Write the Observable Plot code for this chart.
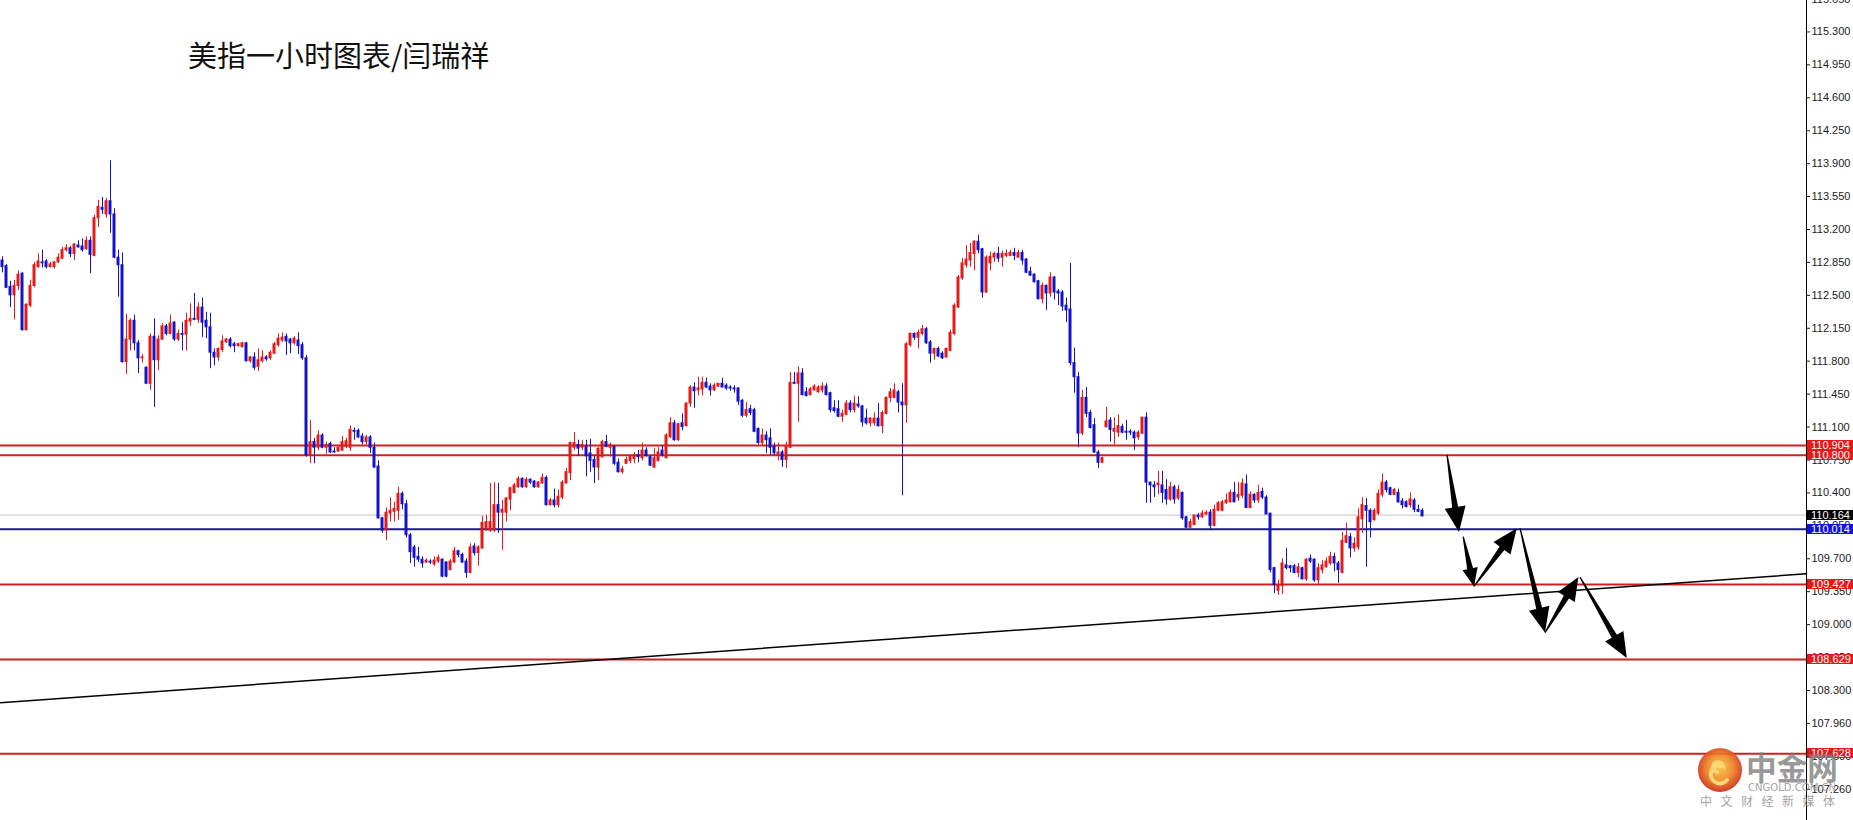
<!DOCTYPE html>
<html><head><meta charset="utf-8">
<script src="https://cdn.jsdelivr.net/npm/d3@7"></script>
<script src="https://cdn.jsdelivr.net/npm/@observablehq/plot@0.6"></script>
<style>
html,body{margin:0;padding:0;background:#fff;overflow:hidden;}
#wrap{position:relative;width:1853px;height:820px;}
#chart{position:absolute;left:0;top:0;}
#title{position:absolute;left:188px;top:37px;font-size:29px;line-height:34px;font-family:"Noto Sans CJK SC","Noto Sans",sans-serif;color:#111;white-space:nowrap;}
</style></head>
<body><div id="wrap"><div id="chart"></div>
<div id="title">美指一小时图表/闫瑞祥</div>
</div>
<script>
// ---- candle data (1-hour bars, oldest first) ----
const opens=[112.87,112.81,112.59,112.50,112.60,112.73,112.13,112.39,112.60,112.80,
112.85,112.86,112.80,112.80,112.85,112.89,112.98,113.00,112.94,113.03,
113.02,112.99,113.08,112.92,113.32,113.43,113.36,113.50,113.36,112.90,
112.82,111.79,112.03,112.23,111.99,111.83,111.73,111.56,112.06,111.81,
112.03,112.17,112.09,112.21,112.03,112.09,112.08,112.22,112.25,112.24,
112.37,112.23,112.16,111.89,111.84,111.92,112.00,112.03,111.98,111.96,
111.95,111.99,111.80,111.84,111.74,111.80,111.84,111.83,111.88,111.97,
112.02,112.06,112.03,111.99,112.02,111.97,111.83,110.80,110.94,110.88,
111.01,110.88,110.92,110.84,110.84,110.85,110.89,110.88,111.06,111.06,
111.00,110.94,110.99,110.88,110.68,110.13,110.00,110.18,110.20,110.21,
110.39,110.28,109.95,109.82,109.72,109.69,109.66,109.67,109.64,109.67,
109.69,109.66,109.58,109.66,109.78,109.74,109.67,109.55,109.83,109.76,
109.81,110.01,110.00,110.00,110.27,110.19,110.19,110.33,110.40,110.46,
110.55,110.46,110.54,110.52,110.46,110.50,110.56,110.27,110.32,110.27,
110.35,110.50,110.61,110.88,110.91,110.88,110.89,110.82,110.75,110.67,
110.78,110.94,110.88,110.89,110.72,110.62,110.71,110.74,110.76,110.80,
110.77,110.85,110.78,110.67,110.74,110.85,110.77,110.99,111.14,110.96,
111.14,111.11,111.35,111.52,111.49,111.50,111.57,111.53,111.49,111.53,
111.56,111.54,111.52,111.51,111.51,111.38,111.22,111.29,111.28,111.08,
110.93,111.01,110.98,110.89,110.80,110.83,110.75,110.88,111.57,111.56,
111.67,111.47,111.44,111.49,111.47,111.49,111.53,111.46,111.30,111.29,
111.21,111.23,111.35,111.28,111.34,111.32,111.19,111.14,111.14,111.19,
111.11,111.24,111.41,111.41,111.47,111.36,111.33,111.97,112.09,112.05,
112.09,112.14,112.00,111.88,111.93,111.88,111.84,111.91,112.09,112.37,
112.68,112.82,112.87,112.94,113.07,112.99,112.53,112.84,112.90,112.94,
112.90,112.92,112.92,112.95,112.90,112.95,112.88,112.75,112.72,112.65,
112.46,112.60,112.52,112.69,112.54,112.53,112.39,112.35,111.78,111.63,
111.03,111.41,111.25,111.12,110.83,110.72,111.10,111.17,111.05,111.04,
111.10,111.05,111.05,111.04,110.99,111.03,111.20,110.51,110.48,110.48,
110.48,110.43,110.33,110.46,110.34,110.40,110.14,110.03,110.06,110.16,
110.14,110.17,110.19,110.05,110.21,110.21,110.29,110.30,110.40,110.35,
110.37,110.49,110.24,110.38,110.32,110.41,110.35,110.18,109.60,109.36,
109.41,109.63,109.62,109.62,109.55,109.60,109.48,109.70,109.69,109.47,
109.58,109.61,109.65,109.72,109.65,109.55,109.87,109.93,109.81,109.82,
110.12,110.26,110.21,110.11,110.18,110.38,110.51,110.45,110.38,110.40,
110.31,110.30,110.27,110.32,110.22,110.21];
const highs=[112.91,112.83,112.65,112.66,112.76,112.74,112.41,112.66,112.85,112.94,
112.98,112.88,112.85,112.86,112.94,113.01,113.04,113.02,113.05,113.08,
113.10,113.12,113.12,113.35,113.51,113.54,113.53,113.93,113.42,112.98,
112.95,112.30,112.25,112.29,112.02,111.87,111.74,112.09,112.25,112.07,
112.20,112.19,112.29,112.22,112.13,112.21,112.31,112.41,112.52,112.42,
112.47,112.32,112.31,111.93,111.94,112.07,112.04,112.05,112.00,111.99,
112.00,112.00,111.85,111.89,111.93,111.91,111.86,111.91,112.00,112.09,
112.10,112.09,112.04,112.06,112.10,112.00,111.86,111.17,110.98,111.06,
111.03,110.94,110.94,110.88,110.89,111.00,110.98,111.11,111.09,111.08,
111.03,111.01,111.01,110.93,110.74,110.14,110.24,110.35,110.30,110.46,
110.41,110.32,109.97,109.84,109.82,109.72,109.70,109.69,109.72,109.74,
109.70,109.67,109.69,109.82,109.79,109.76,109.70,109.86,109.86,109.84,
110.15,110.16,110.50,110.51,110.50,110.32,110.35,110.46,110.50,110.57,
110.56,110.56,110.55,110.53,110.52,110.60,110.58,110.34,110.44,110.43,
110.53,110.66,110.94,111.04,110.96,110.96,110.96,110.97,110.79,110.88,
110.96,111.01,110.93,110.90,110.76,110.68,110.78,110.80,110.83,110.85,
110.93,110.88,110.80,110.87,110.88,110.90,111.03,111.20,111.17,111.14,
111.24,111.36,111.54,111.57,111.63,111.63,111.62,111.56,111.56,111.56,
111.62,111.56,111.54,111.54,111.52,111.39,111.36,111.33,111.30,111.09,
111.08,111.05,111.08,110.93,110.93,110.85,110.94,111.68,111.68,111.74,
111.72,111.52,111.52,111.55,111.54,111.57,111.56,111.47,111.38,111.38,
111.28,111.38,111.38,111.43,111.42,111.33,111.29,111.20,111.25,111.35,
111.27,111.42,111.51,111.56,111.49,111.56,112.00,112.10,112.10,112.13,
112.18,112.16,112.02,111.94,111.95,111.90,111.94,112.13,112.41,112.71,
112.89,113.03,113.05,113.08,113.14,113.00,112.92,112.96,112.96,113.01,
112.97,112.98,112.98,113.00,112.98,112.98,112.89,112.80,112.73,112.66,
112.63,112.61,112.74,112.70,112.56,112.55,112.47,112.84,111.94,111.68,
111.49,111.52,111.28,111.19,110.85,110.78,111.31,111.20,111.20,111.23,
111.13,111.17,111.07,111.06,111.06,111.20,111.25,110.51,110.52,110.63,
110.63,110.54,110.51,110.48,110.48,110.41,110.15,110.12,110.16,110.18,
110.21,110.21,110.22,110.27,110.31,110.32,110.39,110.43,110.51,110.51,
110.55,110.59,110.41,110.39,110.48,110.45,110.37,110.18,109.61,109.47,
109.70,109.81,109.63,109.64,109.65,109.61,109.70,109.74,109.70,109.65,
109.68,109.71,109.77,109.76,109.67,109.98,110.08,109.97,109.92,110.23,
110.35,110.34,110.23,110.23,110.43,110.60,110.53,110.46,110.45,110.44,
110.34,110.32,110.40,110.34,110.27,110.23];
const lows=[112.74,112.57,112.37,112.24,112.55,112.12,112.12,112.37,112.58,112.79,
112.79,112.78,112.79,112.78,112.84,112.88,112.96,112.90,112.87,113.00,
112.96,112.98,112.73,112.91,113.22,113.36,113.32,113.16,112.89,112.48,
111.78,111.66,111.91,111.91,111.67,111.78,111.56,111.49,111.31,111.70,
112.02,112.07,112.08,112.01,112.01,111.91,111.91,112.17,112.23,112.20,
112.05,112.04,111.72,111.75,111.80,111.89,111.99,111.94,111.89,111.95,
111.94,111.79,111.78,111.70,111.69,111.78,111.80,111.81,111.87,111.95,
112.00,111.86,111.88,111.97,111.87,111.81,110.78,110.71,110.71,110.85,
110.87,110.81,110.82,110.82,110.83,110.84,110.87,110.84,110.96,110.98,
110.91,110.91,110.82,110.66,110.12,109.97,109.89,110.09,110.09,110.11,
110.22,109.92,109.65,109.61,109.66,109.60,109.65,109.64,109.62,109.65,
109.50,109.50,109.57,109.65,109.71,109.65,109.49,109.54,109.73,109.62,
109.80,109.99,109.98,109.98,109.97,109.79,110.09,110.21,110.39,110.45,
110.45,110.45,110.49,110.45,110.45,110.49,110.26,110.26,110.24,110.24,
110.33,110.50,110.53,110.85,110.79,110.85,110.57,110.62,110.50,110.53,
110.77,110.88,110.78,110.69,110.61,110.60,110.70,110.71,110.71,110.72,
110.74,110.78,110.68,110.66,110.73,110.78,110.76,110.98,110.95,110.95,
111.06,111.10,111.31,111.30,111.43,111.43,111.51,111.43,111.48,111.52,
111.52,111.49,111.48,111.46,111.33,111.20,111.20,111.22,111.04,110.91,
110.90,110.82,110.80,110.80,110.74,110.67,110.66,110.87,111.55,111.15,
111.43,111.42,111.43,111.48,111.46,111.46,111.43,111.25,111.25,111.20,
111.15,111.22,111.25,111.25,111.30,111.10,111.12,111.10,111.11,111.10,
111.03,111.23,111.36,111.40,111.25,110.37,111.14,111.95,112.02,111.93,
112.07,111.98,111.78,111.81,111.84,111.82,111.83,111.90,112.07,112.36,
112.66,112.79,112.80,112.76,112.94,112.47,112.52,112.76,112.85,112.85,
112.80,112.90,112.91,112.87,112.90,112.82,112.73,112.70,112.63,112.45,
112.41,112.34,112.48,112.45,112.39,112.33,112.21,111.75,111.46,110.88,
111.01,111.20,111.08,110.82,110.66,110.71,111.09,110.94,110.90,110.99,
111.03,110.96,111.01,110.85,110.96,111.02,110.29,110.29,110.35,110.38,
110.29,110.27,110.31,110.28,110.32,110.11,110.02,110.02,110.05,110.11,
110.13,110.16,110.00,110.04,110.20,110.20,110.28,110.29,110.30,110.31,
110.34,110.24,110.23,110.29,110.29,110.33,110.17,109.55,109.33,109.31,
109.32,109.58,109.55,109.54,109.50,109.48,109.46,109.65,109.45,109.42,
109.54,109.60,109.63,109.56,109.44,109.54,109.86,109.71,109.77,109.79,
109.97,109.61,109.92,110.10,110.16,110.35,110.40,110.37,110.37,110.29,
110.23,110.24,110.24,110.19,110.19,110.15];
const closes=[112.80,112.58,112.50,112.60,112.72,112.13,112.40,112.60,112.82,112.86,
112.84,112.80,112.83,112.85,112.90,112.98,113.00,112.94,113.04,113.01,
112.98,113.08,112.93,113.32,113.44,113.41,113.50,113.36,112.90,112.82,
111.79,112.03,112.23,111.99,111.83,111.84,111.56,112.06,111.81,112.03,
112.17,112.09,112.20,112.03,112.09,112.08,112.23,112.25,112.24,112.37,
112.21,112.16,111.89,111.84,111.93,112.01,112.03,111.96,111.96,111.98,
111.99,111.80,111.84,111.73,111.81,111.84,111.82,111.89,111.98,112.04,
112.05,112.01,111.99,112.04,111.96,111.83,110.80,110.94,110.88,111.01,
110.88,110.91,110.83,110.83,110.88,110.94,110.95,111.07,111.05,110.99,
110.94,110.99,110.88,110.67,110.13,110.00,110.19,110.21,110.23,110.39,
110.28,109.95,109.77,109.71,109.69,109.65,109.68,109.66,109.68,109.71,
109.51,109.51,109.67,109.78,109.74,109.66,109.55,109.82,109.76,109.82,
110.08,110.09,110.09,110.27,110.19,110.22,110.34,110.45,110.48,110.55,
110.46,110.54,110.51,110.46,110.51,110.56,110.27,110.32,110.27,110.36,
110.51,110.62,110.93,110.93,110.87,110.91,110.79,110.74,110.67,110.87,
110.94,110.89,110.91,110.71,110.62,110.65,110.75,110.78,110.80,110.78,
110.85,110.79,110.69,110.77,110.83,110.80,111.01,111.14,110.96,111.13,
111.10,111.35,111.52,111.48,111.51,111.57,111.52,111.49,111.54,111.56,
111.52,111.51,111.51,111.50,111.37,111.22,111.28,111.25,111.05,110.93,
111.01,110.96,110.88,110.82,110.83,110.75,110.89,111.57,111.56,111.67,
111.44,111.43,111.50,111.53,111.52,111.53,111.44,111.28,111.27,111.21,
111.24,111.35,111.28,111.35,111.32,111.15,111.14,111.19,111.19,111.11,
111.25,111.41,111.47,111.49,111.36,111.33,111.98,112.09,112.05,112.10,
112.14,111.99,111.88,111.93,111.85,111.83,111.93,112.10,112.39,112.69,
112.84,112.88,112.95,113.07,112.98,112.53,112.90,112.91,112.94,112.89,
112.94,112.94,112.95,112.92,112.95,112.87,112.74,112.71,112.64,112.46,
112.60,112.52,112.69,112.53,112.52,112.38,112.34,111.78,111.63,111.03,
111.41,111.24,111.09,110.83,110.72,110.77,111.16,111.07,111.08,111.11,
111.04,111.04,111.04,110.98,111.04,111.20,110.51,110.48,110.46,110.50,
110.40,110.33,110.46,110.33,110.43,110.13,110.03,110.09,110.16,110.14,
110.18,110.19,110.05,110.22,110.29,110.30,110.32,110.40,110.30,110.38,
110.50,110.24,110.38,110.32,110.40,110.35,110.17,109.58,109.42,109.42,
109.65,109.60,109.60,109.55,109.61,109.48,109.69,109.67,109.47,109.60,
109.63,109.67,109.72,109.65,109.58,109.89,109.94,109.81,109.86,110.14,
110.27,110.21,110.09,110.21,110.39,110.51,110.43,110.38,110.43,110.30,
110.27,110.25,110.33,110.22,110.20,110.15];

// ---- horizontal levels ----
const resistanceLevels=[110.904,110.800,109.427,108.629,107.628];
const supportLevel=110.014;
const bidLevel=110.164;
// ---- trend line (bar index, price) ----
const trendBars=[-0.5,451];
const trendPrices=[108.17,109.54];
// ---- projected path arrows (bar index, price) ----
const arrowFromBar=[361.25,365.3,368.0,379.5,385.75,394.5];
const arrowFromPrice=[110.80,109.93,109.40,110.02,108.91,109.50];
const arrowToBar=[364.25,368.0,378.7,385.75,394.1,406.2];
const arrowToPrice=[109.98,109.40,110.02,108.91,109.50,108.64];
// ---- right axis ticks ----
const tickValues=[115.65,115.30,114.95,114.60,114.25,113.90,113.55,113.20,112.85,112.50,112.15,111.80,111.45,111.10,110.75,110.40,110.05,109.70,109.35,109.00,108.65,108.30,107.95,107.60,107.25];
const tickLabels=["115.650","115.300","114.950","114.600","114.250","113.900","113.550","113.200","112.850","112.500","112.150","111.800","111.450","111.100","110.750","110.400","110.050","109.700","109.350","109.000","108.650","108.300","107.960","107.600","107.260"];
// ---- price tags on the axis ----
const tagPrices=[110.904,110.800,110.164,110.014,109.427,108.629,107.628];
const tagKinds=["res","res","bid","sup","res","res","res"];
// ---- watermark texts ----
const wmBrand="中金网", wmSite="CNGOLD.COM.CN", wmSlogan="中 文 财 经 新 媒 体";

const RED="#dd1c1c", BLUE="#1414c4";
const tagFill={res:"#e81818",bid:"#000000",sup:"#1212e0"};
const FONT='"Liberation Sans Narrow","Liberation Sans",Arial,sans-serif';
const CJK='"Noto Sans CJK SC","Noto Sans",sans-serif';

const bars=opens.map((o,i)=>({i,o,h:highs[i],l:lows[i],c:closes[i]}));
const up=bars.filter(d=>d.c>=d.o), down=bars.filter(d=>d.c<d.o);
const labelOf=new Map(tickValues.map((v,k)=>[v,tickLabels[k]]));
const xDomain=[-0.5,451];

function arrowMark(index, scales){
  const g=d3.create("svg:g");
  arrowFromBar.forEach((b,k)=>{
    const x0=scales.x(b), y0=scales.y(arrowFromPrice[k]);
    const x1=scales.x(arrowToBar[k]), y1=scales.y(arrowToPrice[k]);
    const dx=x1-x0, dy=y1-y0, L=Math.hypot(dx,dy), ux=dx/L, uy=dy/L, nx=-uy, ny=ux;
    const H=Math.min(25,L*0.36), W=H*0.42;
    const bx=x1-ux*H, by=y1-uy*H;
    const pts=[[x0+nx*0.6,y0+ny*0.6],[bx+nx*3,by+ny*3],[bx+nx*W,by+ny*W],[x1,y1],[bx-nx*W,by-ny*W],[bx-nx*3,by-ny*3],[x0-nx*0.6,y0-ny*0.6]];
    g.append("path").attr("d","M"+pts.map(p=>p[0].toFixed(2)+","+p[1].toFixed(2)).join("L")+"Z").attr("fill","#000");
  });
  return g.node();
}
function tagMark(index, scales, values, dims){
  const g=d3.create("svg:g").attr("font-family",FONT).attr("font-size",11).attr("text-anchor","start");
  const x0=dims.width-dims.marginRight+1;
  tagPrices.forEach((p,k)=>{
    const y=Math.round(scales.y(p));
    g.append("rect").attr("x",x0).attr("y",y-5).attr("width",46).attr("height",10).attr("fill",tagFill[tagKinds[k]]);
    g.append("text").attr("x",x0+4).attr("y",y).attr("dy","0.36em").attr("text-anchor","start").attr("fill","#fff").text(p.toFixed(3));
  });
  return g.node();
}
// watermark (bottom-right corner, drawn above everything)
function watermarkMark(index, scales, values, dims){
  const W=dims.width, H=dims.height;
  const g=d3.create("svg:g").attr("text-anchor","start");
  const defs=g.append("defs");
  const rg=defs.append("radialGradient").attr("id","wmgrad").attr("cx","50%").attr("cy","45%").attr("r","55%");
  rg.append("stop").attr("offset","0%").attr("stop-color","#f9c443");
  rg.append("stop").attr("offset","50%").attr("stop-color","#f08a24");
  rg.append("stop").attr("offset","100%").attr("stop-color","#cf2a1a");
  g.append("circle").attr("cx",W-133).attr("cy",H-50).attr("r",22).attr("fill","url(#wmgrad)").attr("opacity",0.92);
  g.append("path").attr("d",`M${W-126},${H-40} a9,9 0 1,1 -4,-14 a5,5 0 1,0 -6,6`).attr("fill","none").attr("stroke","#fcd877").attr("stroke-width",4).attr("stroke-linecap","round").attr("opacity",0.95);
  g.append("text").attr("x",W-107).attr("y",H-40).attr("font-family",CJK).attr("font-weight",700).attr("font-size",32)
    .attr("textLength",92).attr("lengthAdjust","spacingAndGlyphs").attr("fill","rgba(125,125,125,0.8)").text(wmBrand);
  g.append("text").attr("x",W-105).attr("y",H-29).attr("font-family",'"DejaVu Sans",sans-serif').attr("font-size",10)
    .attr("textLength",88).attr("lengthAdjust","spacingAndGlyphs").attr("fill","rgba(150,150,150,0.9)").text(wmSite);
  g.append("text").attr("x",W-153).attr("y",H-14).attr("font-family",CJK).attr("font-size",12)
    .attr("textLength",135).attr("lengthAdjust","spacing").attr("fill","rgba(150,150,150,0.9)").text(wmSlogan);
  return g.node();
}

const chart=Plot.plot({
  width:1853,height:820,marginLeft:0,marginRight:47,marginTop:0,marginBottom:0,
  style:{fontFamily:FONT,fontSize:"11px",color:"#1a1a1a",background:"#fff"},
  x:{type:"linear",domain:xDomain,axis:null},
  y:{domain:[106.918,115.634],axis:null},
  marks:[
    Plot.ruleY([bidLevel],{stroke:"#c4c4c4",strokeWidth:1}),
    Plot.ruleY(resistanceLevels,{stroke:"#cc2121",strokeWidth:2}),
    Plot.ruleY([supportLevel],{stroke:"#1c1c84",strokeWidth:2}),
    Plot.line(trendBars.map((b,k)=>[b,trendPrices[k]]),{stroke:"#000",strokeWidth:1.5}),
    Plot.ruleX(up,{x:"i",y1:"l",y2:"h",stroke:RED,strokeWidth:1}),
    Plot.ruleX(down,{x:"i",y1:"l",y2:"h",stroke:BLUE,strokeWidth:1}),
    Plot.rect(up,{x1:d=>d.i-0.375,x2:d=>d.i+0.375,y1:"o",y2:"c",fill:RED,insetTop:-0.5,insetBottom:-0.5}),
    Plot.rect(down,{x1:d=>d.i-0.375,x2:d=>d.i+0.375,y1:"o",y2:"c",fill:BLUE,insetTop:-0.5,insetBottom:-0.5}),
    arrowMark,
    Plot.ruleX([xDomain[1]],{stroke:"#000",strokeWidth:1}),
    Plot.axisY({anchor:"right",ticks:tickValues,tickFormat:d=>labelOf.get(d),tickSize:3,tickPadding:2,fontSize:11,fill:"#1a1a1a"}),
    tagMark,
    watermarkMark
  ]
});
document.getElementById("chart").appendChild(chart);
</script>
</body></html>
